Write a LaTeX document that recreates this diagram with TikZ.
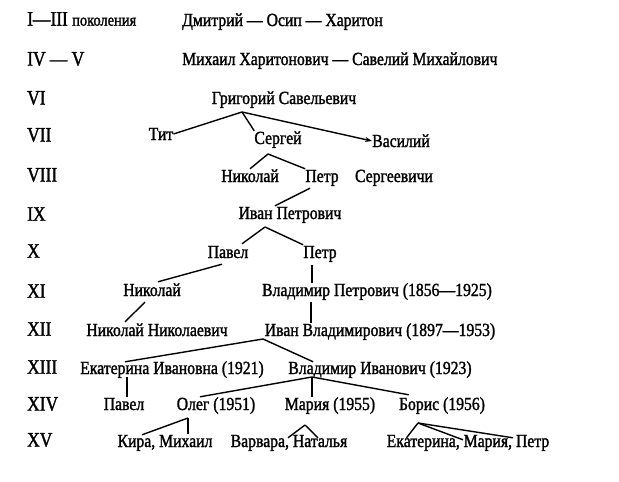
\documentclass[tikz,border=0pt]{standalone}
\usepackage{fontspec}
\setmainfont{Liberation Serif}[FakeStretch=0.85, FakeBold=1.5]
\usetikzlibrary{calc,arrows.meta}

\tikzset{
  gen/.style={anchor=west, inner sep=0pt, font=\fontsize{20.5}{24}\selectfont},
  person/.style={inner sep=0pt, text height=13pt, text depth=1pt, font=\fontsize{18.5}{21}\selectfont},
  link/.style={line width=1.4pt},
}

\begin{document}
\begin{tikzpicture}[x=1pt,y=-1pt,>={Stealth[length=7pt,width=5pt]}]
  \useasboundingbox (0,0) rectangle (619,482);

  % generations
  \node[gen] (g1) at (27,19) {I—III {\fontsize{17}{19}\selectfont поколения}};
  \foreach \n/\y/\t in {2/59/IV — V, 3/98/VI, 4/135/VII, 5/175/VIII, 6/214/IX, 7/251/X,
                        8/291/XI, 9/329/XII, 10/367/XIII, 11/404/XIV, 12/440/XV}
    \node[gen] (g\n) at (27,\y) {\t};

  \node[person, anchor=west] (dmitr) at (182,20) {Дмитрий — Осип — Харитон};
  \node[person, anchor=west] (mikh) at (182,59) {Михаил Харитонович — Савелий Михайлович};

  \node[person] (grig) at (284,98) {Григорий Савельевич};
  \node[person] (tit) at (161,134) {Тит};
  \node[person] (serg) at (278,138) {Сергей};
  \node[person] (vasil) at (401,141) {Василий};
  \node[person] (nikS) at (250,176) {Николай};
  \node[person] (petrS) at (322,176) {Петр};
  \node[person] (sergv) at (394,176) {Сергеевичи};
  \node[person] (ivanP) at (290,213) {Иван Петрович};
  \node[person] (pavP) at (228,252) {Павел};
  \node[person] (petrP) at (320,252) {Петр};
  \node[person] (nikP) at (152,290) {Николай};
  \node[person] (vladP) at (377,290) {Владимир Петрович (1856—1925)};
  \node[person] (nikN) at (157,330) {Николай Николаевич};
  \node[person] (ivanV) at (380,330) {Иван Владимирович (1897—1953)};
  \node[person] (ekat) at (172,368) {Екатерина Ивановна (1921)};
  \node[person] (vladI) at (380,368) {Владимир Иванович (1923)};
  \node[person] (pavI) at (124,404) {Павел};
  \node[person] (oleg) at (216,404) {Олег (1951)};
  \node[person] (maria) at (330,404) {Мария (1955)};
  \node[person] (boris) at (442,404) {Борис (1956)};
  \node[person] (kira) at (165,441) {Кира, Михаил};
  \node[person] (varv) at (289,441) {Варвара, Наталья};
  \node[person] (ekatV) at (468,441) {Екатерина, Мария, Петр};

  \coordinate (grigJ) at (242,112);
  \draw[link] (grigJ) -- (tit.east);
  \draw[link] (grigJ) -- (serg.north west);
  \draw[link,->] (grigJ) -- (vasil.west);

  \coordinate (sergJ) at (268,154);
  \draw[link] (sergJ) -- (nikS.north);
  \draw[link] (sergJ) -- (petrS.north west);
  \draw[link] ($(petrS.south)+(-12,5)$) -- ($(ivanP.north)+(-15,0)$);

  \coordinate (ivanPJ) at (265,227);
  \draw[link] (ivanPJ) -- ($(pavP.north)+(14,-1)$);
  \draw[link] (ivanPJ) -- (petrP.north west);
  \draw[link] ($(pavP.south)+(-6,5)$) -- ($(nikP.north)+(6,-1)$);
  \coordinate (petrPb) at (312,265);
  \draw[link] (petrPb) -- (petrPb |- vladP.north);

  \draw[link] ($(nikP.south)+(-7,5)$) -- ($(nikN.north)+(-32,-1)$);
  \coordinate (vladPb) at (311,302);
  \draw[link] (vladPb) -- (vladPb |- ivanV.north);

  \coordinate (ivanVJ) at (263,339);
  \draw[link] (ivanVJ) -- ($(ekat.north)+(-47,1)$);
  \draw[link] (ivanVJ) -- ($(vladI.north west)+(25,1)$);
  \coordinate (ekatb) at (127,377);
  \draw[link] (ekatb) -- (ekatb |- pavI.north);

  \coordinate (vladIJ) at (312,377);
  \draw[link] (vladIJ) -- ($(oleg.north)+(-16,0)$);
  \draw[link] (vladIJ) -- (vladIJ |- maria.north);
  \draw[link] (vladIJ) -- ($(boris.north west)+(10,-2)$);

  % last generation
  \coordinate (olegJ) at (188,418);
  \draw[link] (olegJ) -- ($(kira.north)+(-23,1)$);
  \draw[link] (olegJ) -- (olegJ |- kira.north);
  \coordinate (mariaJ) at (305,425);
  \draw[link] (mariaJ) -- ($(varv.north)+(-1,4)$);
  \draw[link] (mariaJ) -- ($(varv.north)+(29,4)$);
  \coordinate (borisJ) at (418,423);
  \draw[link] (borisJ) -- ($(ekatV.north west)+(20,4)$);
  \draw[link] (borisJ) -- ($(ekatV.north)+(-5,6)$);
  \draw[link] (borisJ) -- ($(ekatV.north)+(45,4)$);
\end{tikzpicture}
\end{document}
